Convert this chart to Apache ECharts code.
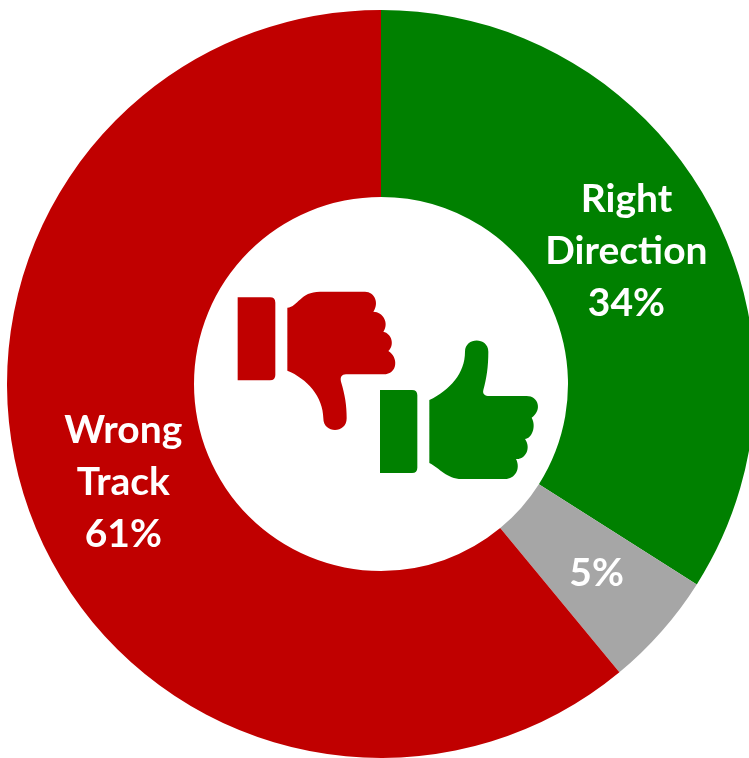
<!DOCTYPE html>
<html>
<head>
<meta charset="utf-8">
<style>html,body{margin:0;padding:0;background:#fff;overflow:hidden}#c{width:749px;height:758px}</style>
<script src="https://cdn.jsdelivr.net/npm/echarts@6/dist/echarts.min.js"></script>
</head>
<body>
<div id="c"></div>
<script>
const categories = ['Right\nDirection', '', 'Wrong\nTrack'];
const values = [34, 5, 61];
const sliceColors = ['#008000', '#A6A6A6', '#C00000'];
const labelOffsets = [[-3, 4], [3, 2], [9, 2]];

const thumbDown = 'M53 52H150Q166 52 166 68V285Q166 301 150 301H53Z M202 83C235 80 240 35 300 35H435C465 35 478 70 460 95C490 95 508 130 490 155C515 160 525 195 505 213C535 230 535 283 490 283H378C365 283 360 292 363 305C375 345 380 375 380 415C380 462 310 462 310 415C310 350 260 295 202 272Z';
const thumbUp = 'M480 330H576Q592 330 592 346V563Q592 579 576 579H480Z M628 360C690 330 735 280 735 215C735 170 805 170 805 215C805 260 800 295 790 330C787 343 795 348 808 348H920C955 348 968 390 935 413C950 440 935 475 915 477C935 505 915 540 888 537C903 567 885 597 855 597H725C680 597 660 565 628 549Z';

echarts.graphic.registerShape('thumbDown', echarts.graphic.extendPath(thumbDown, {}));
echarts.graphic.registerShape('thumbUp', echarts.graphic.extendPath(thumbUp, {}));

const chart = echarts.init(document.getElementById('c'), null, {renderer: 'canvas'});
chart.setOption({
  animation: false,
  backgroundColor: '#fff',
  series: [{
    type: 'pie',
    center: [381, 384],
    radius: [187, 374],
    startAngle: 90,
    clockwise: true,
    avoidLabelOverlap: false,
    silent: true,
    data: categories.map((name, i) => ({
      name,
      value: values[i],
      itemStyle: {color: sliceColors[i]},
      label: {offset: labelOffsets[i]}
    })),
    label: {
      show: true,
      position: 'inside',
      color: '#fff',
      fontFamily: 'Lato',
      fontWeight: 'bold',
      fontSize: 39,
      lineHeight: 52,
      align: 'center',
      formatter: p => (p.name ? p.name + '\n' : '') + p.value + '%'
    },
    labelLine: {show: false}
  }],
  graphic: [
    {type: 'thumbDown', x: 220, y: 280, scaleX: 1/3, scaleY: 1/3, style: {fill: '#C00000'}},
    {type: 'thumbUp', x: 220, y: 280, scaleX: 1/3, scaleY: 1/3, style: {fill: '#008000'}}
  ]
});
</script>
</body>
</html>
